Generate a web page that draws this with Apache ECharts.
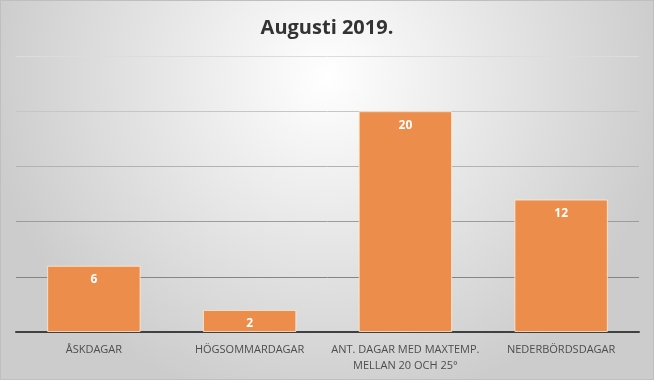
<!DOCTYPE html>
<html><head><meta charset="utf-8">
<script src="https://cdn.jsdelivr.net/npm/echarts@6/dist/echarts.min.js"></script>
<style>html,body{margin:0;padding:0;}#c{width:654px;height:380px;box-sizing:border-box;border:1px solid #BFBFBF;}</style>
</head><body><div id="c"></div>
<script>
const title = 'Augusti 2019.';
const categories = ['ÅSKDAGAR', 'HÖGSOMMARDAGAR', 'ANT. DAGAR MED MAXTEMP.\nMELLAN 20 OCH 25°', 'NEDERBÖRDSDAGAR'];
const values = [6, 2, 20, 12];
const yMin = 0, yMax = 25, yStep = 5;

const chart = echarts.init(document.getElementById('c'));
chart.setOption({
  backgroundColor: {
    type: 'radial', x: 0.5, y: 0.2, r: 0.9,
    colorStops: [{offset: 0, color: '#FFFFFF'}, {offset: 1, color: '#CCCCCC'}]
  },
  title: {
    text: title, left: 'center', top: 12,
    textStyle: {fontFamily: 'Open Sans', fontWeight: 'bold', fontSize: 20, color: '#333333'}
  },
  grid: {left: 15, right: 14, top: 55, bottom: 47, containLabel: false},
  xAxis: {
    type: 'category', data: categories,
    axisLine: {lineStyle: {color: '#404040', width: 2}},
    axisTick: {show: false},
    axisLabel: {color: '#4D4D4D', fontFamily: 'Open Sans', fontSize: 11, margin: 10, lineHeight: 16, interval: 0}
  },
  yAxis: {
    type: 'value', min: yMin, max: yMax, interval: yStep,
    axisLabel: {show: false}, axisLine: {show: false}, axisTick: {show: false},
    splitLine: {lineStyle: {color: ['#808080', '#858585', '#9C9C9C', '#B2B2B2', '#C6C6C6', '#DCDCDC'], width: 1}}
  },
  series: [{
    type: 'bar', data: values, barCategoryGap: '40%',
    itemStyle: {color: '#ED8D4B', borderColor: 'rgba(255,235,215,0.8)', borderWidth: 1},
    label: {show: true, position: 'insideTop', distance: 8, color: '#FFFFFF',
      fontFamily: 'Open Sans', fontWeight: 'bold', fontSize: 12}
  }]
});
</script></body></html>
